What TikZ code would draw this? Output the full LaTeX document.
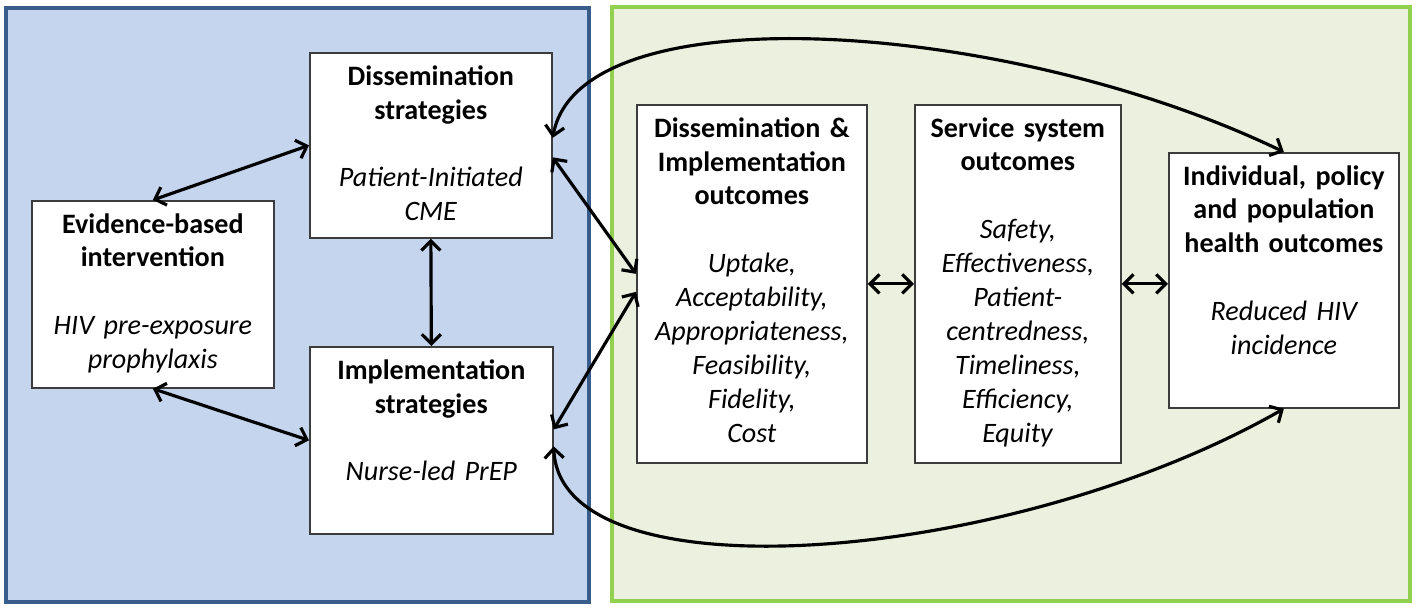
\documentclass[tikz,border=0pt]{standalone}
\usepackage{fontspec}
\setmainfont{Carlito}
\usetikzlibrary{positioning,arrows.meta}

\definecolor{bluefill}{RGB}{197,213,238}
\definecolor{blueline}{RGB}{56,93,138}
\definecolor{greenfill}{RGB}{235,241,222}
\definecolor{greenline}{RGB}{146,208,80}
\definecolor{boxline}{RGB}{60,60,60}

\begin{document}
\begin{tikzpicture}[x=0.02cm,y=-0.02cm,
    box/.style={draw=boxline, line width=1pt, fill=white, inner sep=0pt, anchor=north west},
    txt/.style={align=center, inner sep=0pt, font=\fontsize{16}{19.3}\selectfont},
    link/.style={line width=1.8pt, {Straight Barb[length=1.9mm,width=3.8mm]}-{Straight Barb[length=1.9mm,width=3.8mm]}}]

    \useasboundingbox (0,0) rectangle (1418,608);

    % panels
    \draw[draw=blueline, fill=bluefill, line width=2.2pt] (6,8) rectangle (589,602);
    \draw[draw=greenline, fill=greenfill, line width=2.2pt] (612,7) rectangle (1410,601);

    % left panel
    \node[box, minimum width=4.84cm, minimum height=3.74cm] (ebi) at (31,200) {};
    \node[box, minimum width=4.84cm, minimum height=3.70cm] (diss) at (309,52) {};
    \node[box, minimum width=4.86cm, minimum height=3.74cm] (impl) at (309,346) {};

    \node[txt, text width=4.7cm, below=0.26cm of ebi.north] (ebitext)
        {\textbf{Evidence-based\\intervention}\\[19.3pt]\textit{HIV pre-exposure\\prophylaxis}};
    \node[txt, text width=4.7cm, below=0.26cm of diss.north] (disstext)
        {\textbf{Dissemination\\strategies}\\[19.3pt]\textit{Patient-Initiated\\CME}};
    \node[txt, text width=4.7cm, below=0.26cm of impl.north] (impltext)
        {\textbf{Implementation\\strategies}\\[19.3pt]\textit{Nurse-led PrEP}};

    % right panel
    \node[box, minimum width=4.60cm, minimum height=7.16cm] (dio) at (636,104) {};
    \node[box, minimum width=4.12cm, minimum height=7.16cm] (sso) at (914,104) {};
    \node[box, minimum width=4.60cm, minimum height=5.10cm] (ind) at (1168,152) {};

    \node[txt, text width=4.5cm, below=0.26cm of dio.north] (diotext)
        {\textbf{Dissemination \&\\Implementation\\outcomes}\\[19.3pt]\textit{Uptake,\\Acceptability,\\Appropriateness,\\Feasibility,\\Fidelity,\\Cost}};
    \node[txt, text width=4.0cm, below=0.26cm of sso.north] (ssotext)
        {\textbf{Service system\\outcomes}\\[19.3pt]\textit{Safety,\\Effectiveness,\\Patient-\\centredness,\\Timeliness,\\Efficiency,\\Equity}};
    \node[txt, text width=4.5cm, below=0.26cm of ind.north] (indtext)
        {\textbf{Individual, policy\\and population\\health outcomes}\\[19.3pt]\textit{Reduced HIV\\incidence}};

    % arrows
    \draw[link] (ebi.north) -- (diss.west);
    \draw[link] (ebi.south) -- (impl.west);
    \draw[link] (diss.south) -- (impl.north);
    \draw[link] ([yshift=-0.24cm]diss.east) -- ([yshift=0.2cm]dio.west);
    \draw[link] ([yshift=0.22cm]impl.east) -- ([yshift=-0.16cm]dio.west);
    \draw[link] (dio.east) -- (sso.west);
    \draw[link] (sso.east) -- (sso.east -| ind.west);

    \draw[link] ([yshift=0.15cm]diss.east) .. controls (580,-10) and (1010,20) .. (ind.north);
    \draw[link] ([yshift=-0.12cm]impl.east) .. controls (560,600) and (1010,565) .. (ind.south);

\end{tikzpicture}
\end{document}
